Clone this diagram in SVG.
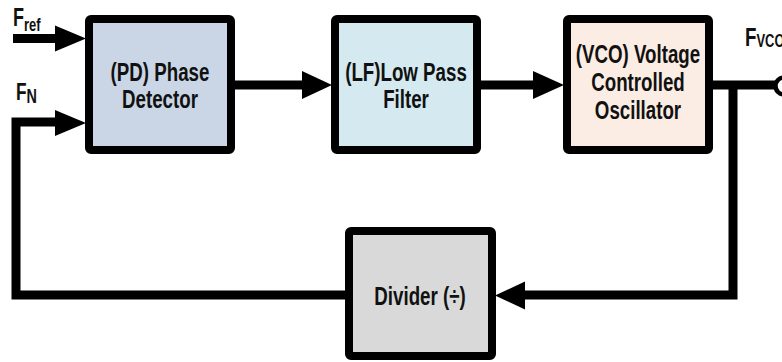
<svg xmlns="http://www.w3.org/2000/svg" width="782" height="362" viewBox="0 0 782 362">
<style>
.box{stroke:#000;stroke-width:8;stroke-linejoin:round}
.t{font-family:"Liberation Sans",Arial,sans-serif;font-weight:bold;font-size:26px;fill:#111;text-anchor:middle}
.lbl{font-family:"Liberation Sans",Arial,sans-serif;font-weight:bold;fill:#111}
.w{fill:none;stroke:#000;stroke-width:9;stroke-linejoin:miter;stroke-linecap:butt}
.ah{fill:#000}
</style>
<rect width="782" height="362" fill="#fff"/>
<g id="connectors">
  <path class="w" d="M13,38.5 H58" stroke-linecap="round"/>
  <polygon class="ah" points="55,25.5 86,38.5 55,51.5"/>
  <path class="w" d="M345,295 H16 V122 H58"/>
  <polygon class="ah" points="55,110 86,123 55,136"/>
  <path class="w" d="M235,85 H305"/>
  <polygon class="ah" points="302,71 332,85 302,99"/>
  <path class="w" d="M481,85 H536"/>
  <polygon class="ah" points="533,71 564,85 533,99"/>
  <path class="w" d="M713,85 H776"/>
  <circle cx="784" cy="86" r="8.5" fill="#fff" stroke="#000" stroke-width="4.5"/>
  <path class="w" d="M733,85 V295 H522"/>
  <polygon class="ah" points="525,281.5 495,295.5 525,309.5"/>
</g>
<g id="pd">
  <rect class="box" x="89" y="19" width="142" height="131" rx="2" fill="#CAD6E5"/>
  <text class="t" transform="translate(160,81) scale(0.72,1)">(PD) Phase</text>
  <text class="t" transform="translate(160,108) scale(0.72,1)">Detector</text>
</g>
<g id="lf">
  <rect class="box" x="335" y="19" width="142" height="131" rx="2" fill="#D4EAF0"/>
  <text class="t" transform="translate(406,81) scale(0.72,1)">(LF)Low Pass</text>
  <text class="t" transform="translate(406,108) scale(0.72,1)">Filter</text>
</g>
<g id="vco">
  <rect class="box" x="567" y="19" width="142" height="131" rx="2" fill="#FCEDE4"/>
  <text class="t" transform="translate(638,63) scale(0.72,1)">(VCO) Voltage</text>
  <text class="t" transform="translate(638,91) scale(0.72,1)">Controlled</text>
  <text class="t" transform="translate(638,119) scale(0.72,1)">Oscillator</text>
</g>
<g id="divider">
  <rect class="box" x="349" y="231" width="143" height="125" rx="2" fill="#D9D9D9"/>
  <text class="t" transform="translate(420,305) scale(0.72,1)">Divider (÷)</text>
</g>
<g id="labels">
  <text class="lbl" transform="translate(13,26) scale(0.72,1)" font-size="25">F<tspan font-size="18" dy="5">ref</tspan></text>
  <text class="lbl" transform="translate(16,100) scale(0.72,1)" font-size="24">F<tspan font-size="20" dy="3">N</tspan></text>
  <text class="lbl" transform="translate(745,46) scale(0.72,1)" font-size="26" font-weight="normal">F<tspan font-size="18" dy="1">VCO</tspan></text>
</g>
</svg>
